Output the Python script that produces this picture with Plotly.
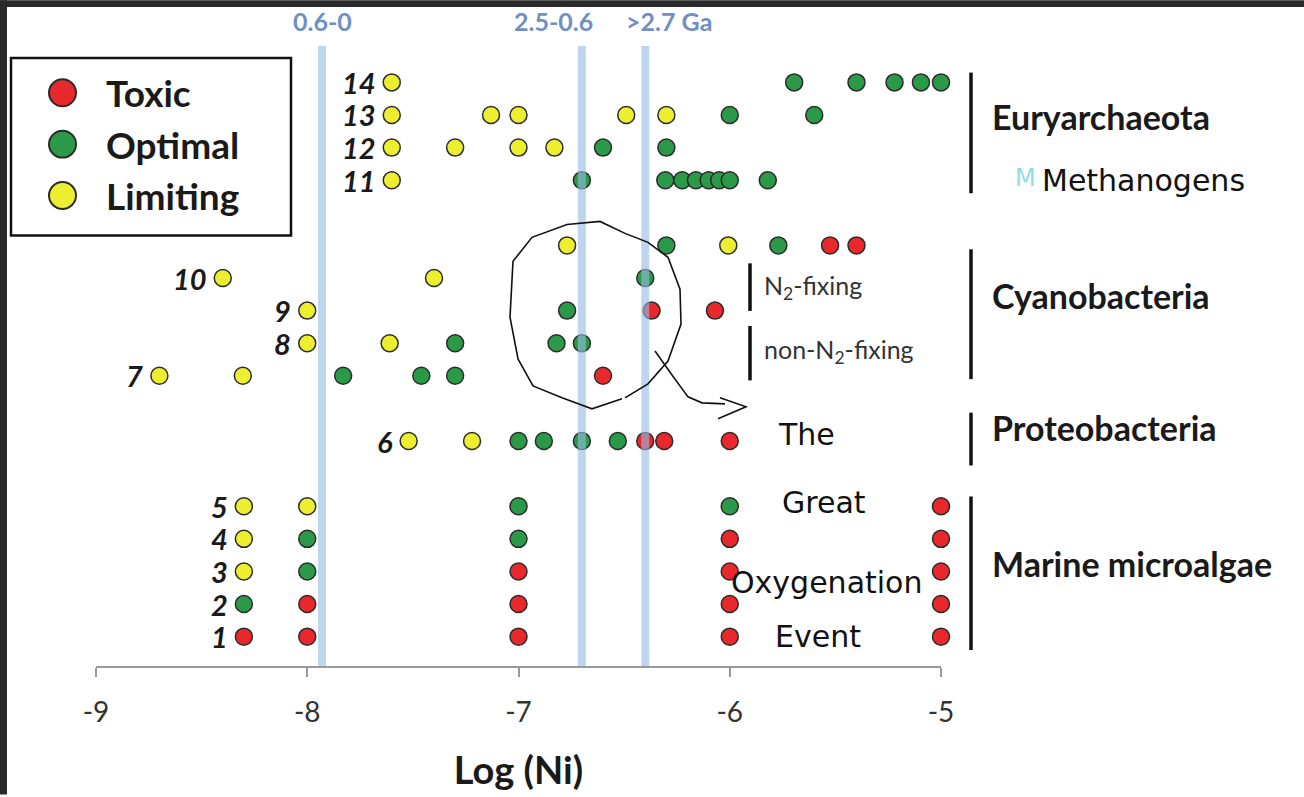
import plotly.graph_objects as go

# ---------------- data ----------------
row_names = ["1", "2", "3", "4", "5", "6", "7", "8", "9", "10", "", "11", "12", "13", "14"]
row_pos   = [1, 2, 3, 4, 5, 7, 9, 10, 11, 12, 13, 15, 16, 17, 18]

toxic_vals = [
    [-8.3, -8.0, -7.0, -6.0, -5.0],
    [-8.0, -7.0, -6.0, -5.0],
    [-7.0, -6.0, -5.0],
    [-6.0, -5.0],
    [-5.0],
    [-6.4, -6.31, -6.0],
    [-6.6],
    [],
    [-6.37, -6.07],
    [],
    [-5.525, -5.4],
    [], [], [], [],
]
optimal_vals = [
    [],
    [-8.3],
    [-8.0],
    [-8.0, -7.0],
    [-7.0, -6.0],
    [-7.0, -6.88, -6.7, -6.53],
    [-7.83, -7.46, -7.3],
    [-7.3, -6.82, -6.7],
    [-6.77],
    [-6.4],
    [-6.3, -5.77],
    [-6.7, -6.305, -6.225, -6.16, -6.1, -6.05, -6.0, -5.82],
    [-6.6, -6.3],
    [-6.0, -5.6],
    [-5.695, -5.4, -5.22, -5.095, -5.0],
]
limiting_vals = [
    [],
    [],
    [-8.3],
    [-8.3],
    [-8.3, -8.0],
    [-7.52, -7.22],
    [-8.7, -8.305],
    [-8.0, -7.61],
    [-8.0],
    [-8.4, -7.4],
    [-6.77, -6.007],
    [-7.6],
    [-7.6, -7.3, -7.0, -6.83],
    [-7.6, -7.13, -7.0, -6.49, -6.3],
    [-7.6],
]

era_x      = [-7.93, -6.7, -6.4]
era_labels = ["0.6-0", "2.5-0.6", ">2.7 Ga"]

status_names  = ["Toxic", "Optimal", "Limiting"]
status_colors = ["#e8282b", "#2b9a48", "#eeee30"]

groups       = ["Euryarchaeota", "Cyanobacteria", "Proteobacteria", "Marine microalgae"]
group_ranges = [(14.6, 18.3), (8.9, 12.88), (6.25, 7.87), (0.59, 5.3)]
group_text_y = [16.95, 11.45, 7.4, 3.25]
subgroups       = ["N<sub>2</sub>-fixing", "non-N<sub>2</sub>-fixing"]
subgroup_ranges = [(10.99, 12.45), (8.86, 10.53)]
subgroup_text_y = [11.72, 9.75]

# ---------------- layout geometry ----------------
W, H = 1304, 797
ML, MR, MT, MB = 96, 363, 40, 129
PW, PH = W - ML - MR, H - MT - MB
XR = [-9, -5]
YR = [0.1, 19.3]


def px(x):  # pixel x -> paper
    return (x - ML) / PW


def py(y):  # pixel y -> paper
    return (H - MB - y) / PH


fig = go.Figure()

all_vals = [toxic_vals, optimal_vals, limiting_vals]
for name, color, vals in zip(status_names, status_colors, all_vals):
    xs, ys = [], []
    for pos, row in zip(row_pos, vals):
        for v in row:
            xs.append(v)
            ys.append(pos)
    fig.add_trace(go.Scatter(
        x=xs, y=ys, mode="markers", name=name, showlegend=False,
        marker=dict(size=17, color=color, line=dict(color="#2b2b2b", width=1.5)),
        cliponaxis=False,
    ))

shapes = []
annotations = []

# era lines (drawn above markers, translucent)
era_label_shift = [0, -28, 24]
for xv, lab, sh in zip(era_x, era_labels, era_label_shift):
    shapes.append(dict(type="line", xref="x", yref="paper", x0=xv, x1=xv,
                       y0=0, y1=py(46), layer="above",
                       line=dict(color="rgba(150,187,228,0.62)", width=8)))
    annotations.append(dict(xref="x", yref="paper", x=xv, y=py(21), text="<b>%s</b>" % lab,
                            showarrow=False, xanchor="center", yanchor="middle", xshift=sh,
                            font=dict(family="Lato", size=25, color="#6f8fc5")))

# row labels
for name, pos, t, o, l in zip(row_names, row_pos, toxic_vals, optimal_vals, limiting_vals):
    if not name:
        continue
    first = min(t + o + l)
    annotations.append(dict(xref="x", yref="y", x=first, y=pos, text="<b><i>%s</i></b>" % name,
                            showarrow=False, xanchor="right", yanchor="middle", xshift=-14,
                            font=dict(family="Lato", size=29, color="#1a1a1a")))

# group brackets
for g, (y0, y1), ty in zip(groups, group_ranges, group_text_y):
    shapes.append(dict(type="line", xref="paper", yref="y", x0=px(971), x1=px(971),
                       y0=y0, y1=y1, line=dict(color="#111", width=3.5)))
    annotations.append(dict(xref="paper", yref="y", x=px(990), y=ty, text="<b>%s</b>" % g,
                            showarrow=False, xanchor="left", yanchor="middle",
                            font=dict(family="Lato", size=34, color="#1a1a1a")))
for g, (y0, y1), ty in zip(subgroups, subgroup_ranges, subgroup_text_y):
    shapes.append(dict(type="line", xref="paper", yref="y", x0=px(750), x1=px(750),
                       y0=y0, y1=y1, line=dict(color="#111", width=3.5)))
    annotations.append(dict(xref="paper", yref="y", x=px(762), y=ty, text=g,
                            showarrow=False, xanchor="left", yanchor="middle",
                            font=dict(family="Lato", size=25, color="#333")))

# legend box
shapes.append(dict(type="rect", xref="paper", yref="paper", x0=px(11), x1=px(291),
                   y0=py(236), y1=py(58), line=dict(color="#111", width=2.5),
                   fillcolor="white", layer="above"))
for i, (name, color) in enumerate(zip(status_names, status_colors)):
    cy = 93 + i * 51.5
    shapes.append(dict(type="circle", xref="paper", yref="paper",
                       x0=px(49), x1=px(76), y0=py(cy + 13.5), y1=py(cy - 13.5),
                       fillcolor=color, line=dict(color="#2b2b2b", width=2), layer="above"))
    annotations.append(dict(xref="paper", yref="paper", x=px(104), y=py(cy), text="<b>%s</b>" % name,
                            showarrow=False, xanchor="left", yanchor="middle",
                            font=dict(family="Lato", size=37, color="#1a1a1a")))

# dark screenshot borders
shapes.append(dict(type="rect", xref="paper", yref="paper", x0=px(0), x1=px(W), y0=py(7), y1=py(0),
                   fillcolor="#2a2a2a", line=dict(width=0), layer="above"))
shapes.append(dict(type="rect", xref="paper", yref="paper", x0=px(0), x1=px(7), y0=py(H), y1=py(0),
                   fillcolor="#2a2a2a", line=dict(width=0), layer="above"))

# hand-drawn annotation: loop, arrow and notes
loop = [(622, 400), (592, 410), (562, 399), (533, 387), (518, 360), (510, 318), (513, 262),
        (532, 238), (567, 225), (600, 222), (625, 234), (648, 243), (668, 258), (680, 290),
        (681, 325), (668, 362), (648, 385), (625, 399)]
arrow = [(655, 352), (672, 376), (688, 398), (702, 404), (725, 405)]
head = [(720, 399), (746, 408), (718, 420)]


def path_of(pts):
    return "M " + " L ".join("%.5f,%.5f" % (px(a), py(b)) for a, b in pts)


for pts in (loop, arrow, head):
    shapes.append(dict(type="path", xref="paper", yref="paper", path=path_of(pts),
                       line=dict(color="#111", width=1.6), layer="above"))

notes = [("The", 806, 436), ("Great", 824, 504), ("Oxygenation", 826, 584), ("Event", 818, 638)]
for txt, x, y in notes:
    annotations.append(dict(xref="paper", yref="paper", x=px(x), y=py(y), text=txt,
                            showarrow=False, xanchor="center", yanchor="middle",
                            font=dict(family="DejaVu Sans", size=30, color="#111")))
annotations.append(dict(xref="paper", yref="paper", x=px(1013), y=py(178), text="M",
                        showarrow=False, xanchor="left", yanchor="middle",
                        font=dict(family="DejaVu Sans", size=24, color="#8fdcf2")))
annotations.append(dict(xref="paper", yref="paper", x=px(1040), y=py(181), text="Methanogens",
                        showarrow=False, xanchor="left", yanchor="middle",
                        font=dict(family="DejaVu Sans", size=30, color="#111")))

fig.update_layout(
    width=W, height=H, autosize=False,
    margin=dict(l=ML, r=MR, t=MT, b=MB, pad=0),
    paper_bgcolor="white", plot_bgcolor="white",
    shapes=shapes, annotations=annotations,
    showlegend=False,
    xaxis=dict(range=XR, tickvals=[-9, -8, -7, -6, -5], ticktext=["-9", "-8", "-7", "-6", "-5"],
               ticks="outside", ticklen=9, tickwidth=1.5, tickcolor="#999",
               showline=True, linecolor="#999", linewidth=1.5, showgrid=False, zeroline=False,
               ticklabelstandoff=12,
               tickfont=dict(family="Lato", size=28, color="#333"),
               title=dict(text="<b>Log (Ni)</b>", standoff=30,
                          font=dict(family="Lato", size=38, color="#1a1a1a"))),
    yaxis=dict(range=YR, visible=False, showgrid=False, zeroline=False),
)

fig.write_html("out.html", config={"displayModeBar": False},
               post_script="document.body.style.margin='0';document.body.style.overflow='hidden';")
